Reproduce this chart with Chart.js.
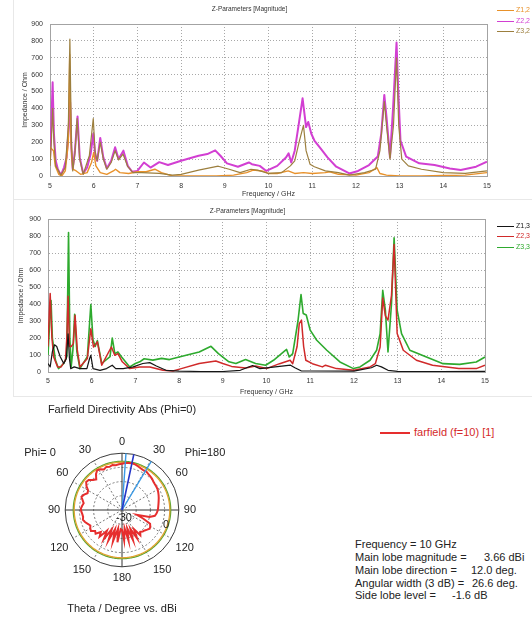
<!DOCTYPE html>
<html>
<head>
<meta charset="utf-8">
<title>Z-Parameters / Farfield</title>
<script src="https://cdn.jsdelivr.net/npm/chart.js@4.4.1/dist/chart.umd.min.js"></script>
<style>
  html, body { margin: 0; padding: 0; background: #fff; }
  #page { position: relative; width: 532px; height: 620px; overflow: hidden;
          font-family: "Liberation Sans", Arial, sans-serif; color: #222; }
  canvas { position: absolute; display: block; }
  .frame { position: absolute; border-left: 1px solid #e8e8e8; border-bottom: 1px solid #e8e8e8; }
  .zleg { position: absolute; left: 497px; font-size: 7px; line-height: 8px; white-space: nowrap; }
  .zleg i { display: inline-block; width: 17px; border-top: 1.5px solid currentColor; vertical-align: middle; margin-right: 2px; }
  #ffLegend { position: absolute; left: 380px; top: 425px; font-size: 11px; line-height: 14px; color: #d42a2a; white-space: nowrap; }
  #ffLegend i { display: inline-block; width: 30px; border-top: 2px solid #e62e2e; vertical-align: middle; margin-right: 4px; }
  .info { position: absolute; font-size: 11px; line-height: 13px; white-space: nowrap; color: #222; }
</style>
</head>
<body>
<div id="page">
  <div class="frame" style="left:13px;top:0;width:519px;height:199px"></div>
  <div class="frame" style="left:13px;top:200px;width:519px;height:196px"></div>
  <canvas id="zTop" width="532" height="200" style="left:0;top:0"></canvas>
  <canvas id="zBottom" width="532" height="200" style="left:0;top:200px"></canvas>
  <canvas id="farfield" width="245" height="225" style="left:0;top:395px"></canvas>
  <div id="legends"></div>
  <div id="ffLegend"><i></i>farfield (f=10) [1]</div>
  <div class="info" style="left:355px;top:538px">Frequency = 10 GHz</div>
  <div class="info" style="left:355px;top:551px">Main lobe magnitude =</div>
  <div class="info" style="left:484px;top:551px">3.66 dBi</div>
  <div class="info" style="left:355px;top:564px">Main lobe direction =</div>
  <div class="info" style="left:471px;top:564px">12.0 deg.</div>
  <div class="info" style="left:355px;top:577px">Angular width (3 dB) =</div>
  <div class="info" style="left:472px;top:577px">26.6 deg.</div>
  <div class="info" style="left:355px;top:589px">Side lobe level =</div>
  <div class="info" style="left:452px;top:589px">-1.6 dB</div>
</div>
<script>
/* ---- data: Z-parameters, frequency in GHz, magnitude in Ohm ---- */
const FREQ_MIN = 5, FREQ_MAX = 15, IMP_MAX = 900;
const freqTicks = [5, 6, 7, 8, 9, 10, 11, 12, 13, 14, 15];
const impTicks = [0, 100, 200, 300, 400, 500, 600, 700, 800, 900];

const z12 = [[5.00,170],[5.04,160],[5.08,150],[5.12,60],[5.20,10],[5.27,0],[5.35,30],[5.42,200],[5.45,720],
  [5.48,200],[5.52,40],[5.60,30],[5.70,10],[5.85,20],[5.95,80],[6.00,140],[6.05,60],[6.15,20],[6.30,10],
  [6.45,30],[6.50,40],[6.60,20],[6.80,15],[7.00,25],[7.20,25],[7.40,40],[7.55,20],[7.80,0],[8.20,0],[8.80,0],
  [9.20,5],[9.50,20],[9.65,35],[9.85,30],[10.00,15],[10.20,15],[10.45,30],[10.60,15],[10.80,20],[11.00,15],
  [11.30,20],[11.40,25],[11.60,10],[12.00,5],[12.30,20],[12.48,50],[12.55,15],[12.70,5],[13.00,0],[13.50,0],
  [14.00,3],[14.50,5],[15.00,20]];
const z22 = [[5.00,95],[5.03,300],[5.06,555],[5.09,250],[5.13,90],[5.18,40],[5.25,5],[5.32,50],[5.38,110],
  [5.42,250],[5.46,440],[5.49,160],[5.52,40],[5.57,150],[5.63,352],[5.68,110],[5.76,15],[5.85,50],[5.93,130],
  [5.99,250],[6.04,110],[6.08,90],[6.15,225],[6.22,110],[6.30,45],[6.40,90],[6.49,170],[6.57,100],[6.68,150],
  [6.78,60],[6.88,25],[7.00,30],[7.15,80],[7.30,50],[7.50,82],[7.70,65],[8.00,90],[8.40,120],[8.60,130],
  [8.78,152],[8.90,120],[9.05,75],[9.30,55],[9.55,80],[9.62,70],[9.80,60],[9.95,30],[10.20,60],[10.40,110],
  [10.46,134],[10.52,80],[10.60,150],[10.70,320],[10.78,460],[10.86,290],[10.91,320],[10.98,250],[11.05,210],
  [11.20,160],[11.35,110],[11.55,55],[11.85,15],[12.05,30],[12.30,65],[12.50,115],[12.58,250],[12.65,480],
  [12.70,350],[12.78,110],[12.85,400],[12.93,790],[12.97,500],[13.02,210],[13.15,115],[13.45,75],[13.80,65],
  [14.15,45],[14.40,35],[14.75,55],[15.00,85]];
const z32 = [[5.00,60],[5.03,200],[5.06,400],[5.09,200],[5.13,60],[5.25,5],[5.35,50],[5.42,300],[5.455,810],
  [5.49,200],[5.52,30],[5.57,130],[5.62,340],[5.68,100],[5.76,10],[5.90,120],[5.99,340],[6.03,150],[6.08,90],
  [6.15,200],[6.22,100],[6.30,40],[6.40,80],[6.49,150],[6.57,95],[6.67,130],[6.78,55],[6.90,20],[7.10,20],
  [7.50,15],[7.80,5],[8.00,10],[8.40,35],[8.85,58],[9.10,40],[9.35,20],[9.60,40],[9.75,35],[10.00,15],
  [10.30,20],[10.50,60],[10.60,90],[10.70,200],[10.80,300],[10.86,150],[10.95,70],[11.05,55],[11.30,30],
  [11.60,20],[11.85,5],[12.20,20],[12.45,40],[12.55,150],[12.65,440],[12.70,300],[12.78,100],[12.86,300],
  [12.93,700],[12.98,300],[13.05,100],[13.20,60],[13.50,40],[14.00,20],[14.50,15],[15.00,30]];

const z13 = [[5.00,50],[5.05,30],[5.10,120],[5.15,160],[5.20,150],[5.28,90],[5.36,50],[5.42,80],[5.46,225],
  [5.49,80],[5.52,20],[5.60,30],[5.73,20],[5.89,20],[5.95,78],[5.98,98],[6.03,20],[6.19,10],[6.34,20],
  [6.47,40],[6.55,20],[6.72,20],[6.95,30],[7.17,50],[7.33,55],[7.48,35],[7.70,10],[8.00,5],[8.50,3],[9.00,3],
  [9.40,10],[9.68,38],[9.85,20],[10.30,33],[10.55,40],[10.65,25],[10.80,6],[11.00,6],[12.00,5],[12.40,25],
  [12.52,40],[12.63,30],[12.78,10],[13.00,4],[14.00,3],[15.00,4]];
const z23 = [[5.00,150],[5.03,350],[5.05,462],[5.09,200],[5.13,88],[5.22,30],[5.30,30],[5.40,70],[5.43,200],
  [5.46,445],[5.49,150],[5.53,150],[5.58,167],[5.62,334],[5.67,130],[5.73,30],[5.90,80],[5.98,255],[6.04,147],
  [6.13,177],[6.23,40],[6.45,147],[6.53,98],[6.60,108],[6.70,60],[6.87,20],[7.10,30],[7.33,30],[7.63,10],
  [7.86,6],[8.05,20],[8.46,50],[8.84,65],[9.00,50],[9.20,33],[9.52,23],[9.75,35],[10.00,20],[10.30,49],
  [10.54,69],[10.60,49],[10.70,150],[10.75,285],[10.80,305],[10.85,150],[10.90,69],[11.05,49],[11.28,30],
  [11.35,40],[11.60,20],[12.00,10],[12.37,30],[12.49,49],[12.60,147],[12.66,435],[12.72,330],[12.78,305],
  [12.86,450],[12.92,750],[12.99,226],[13.13,128],[13.43,69],[13.80,40],[14.40,20],[14.80,20],[15.00,40]];
const z33 = [[5.00,100],[5.03,250],[5.07,420],[5.10,200],[5.17,70],[5.24,20],[5.36,50],[5.43,90],[5.47,820],
  [5.50,200],[5.53,30],[5.57,130],[5.61,340],[5.66,120],[5.73,20],[5.90,90],[5.98,397],[6.03,190],[6.08,150],
  [6.13,185],[6.23,50],[6.42,90],[6.47,200],[6.53,108],[6.60,118],[6.68,90],[6.87,30],[7.00,50],[7.10,60],
  [7.20,78],[7.40,70],[7.60,80],[7.78,73],[8.00,88],[8.46,118],[8.73,151],[8.90,108],[9.14,60],[9.30,50],
  [9.52,73],[9.75,50],[9.98,40],[10.16,69],[10.39,118],[10.46,133],[10.52,88],[10.60,108],[10.72,300],
  [10.79,455],[10.84,344],[10.91,335],[11.00,246],[11.15,187],[11.38,128],[11.68,59],[11.99,20],[12.14,30],
  [12.37,69],[12.52,128],[12.60,226],[12.66,481],[12.72,364],[12.78,118],[12.86,400],[12.92,790],[12.99,364],
  [13.09,226],[13.28,128],[13.66,88],[14.04,49],[14.42,45],[14.80,59],[15.00,88]];

/* ---- data: farfield directivity (dBi) vs theta, Phi=180 side and Phi=0 side ---- */
const THETA_STEP = 4;
const thetaLabels = [0, 30, 60, 90, 120, 150, 180];
const patternPhi180 = [2.6, 3.1, 3.5, 3.66, 3.4, 2.8, 2.2, 1.8, 2.1, 1.4, 1.0, 0.5, -0.2, -0.6, -0.8, -1.0,
  -1.6, -2.2, -2.8, -3.4, -3.9, -4.3, -4.6, -5.0, -5.6, -6.5, -10.0, -19.0, -14.0, -8.0, -7.0, -6.5, -7.5, -8.5,
  -9.0, -10.0, -8.0, -14.0, -7.5, -15.5, -7.5, -16.5, -8.0, -17.0, -8.5, -16.0];
const patternPhi0 = [2.6, 2.3, 1.9, 2.4, 1.6, 2.3, 1.3, 2.5, 3.0, 1.2, -1.8, -0.6, 1.6, 2.0, 0.2, -2.4, -3.0,
  -1.2, 0.0, -1.4, -2.6, -1.8, -1.0, -1.3, -1.9, -2.2, -1.6, -2.6, -4.0, -5.2, -4.2, -3.6, -6.0, -5.0, -8.5,
  -5.5, -12.0, -6.0, -14.5, -6.5, -15.5, -7.0, -16.5, -7.0, -16.5, -16.0];
const R_MIN = -30, R_MAX = 10;
const radialTickLabels = [-30, 0];
const MAIN_LOBE_DBI = 3.66;
const OUTER_RING_DBI = 4.3;
const MAIN_LOBE_DIR = 12;
const BEAM_EDGES = [4, 31];

/* ---- styling ---- */
const FONT = '"Liberation Sans", Arial, sans-serif';
const FRAME = '#a3a3a3';
const GRID = '#a8a8a8';
const Y_AXIS_W = 38;

const topSeries = [
  { label: 'Z1,2', points: z12, color: '#e8912a', width: 1.4, order: 2 },
  { label: 'Z2,2', points: z22, color: '#d23fd2', width: 2, order: 3 },
  { label: 'Z3,2', points: z32, color: '#9c7f3e', width: 1.2, order: 1 }
];
const bottomSeries = [
  { label: 'Z1,3', points: z13, color: '#151515', width: 1.2, order: 1 },
  { label: 'Z2,3', points: z23, color: '#d02a2a', width: 1.5, order: 2 },
  { label: 'Z3,3', points: z33, color: '#2eaa2e', width: 1.6, order: 3 }
];

function drawZChart(canvasId, series, g) {
  const font = { family: FONT, size: 7 };
  const lastX = freqTicks.length - 1, lastY = impTicks.length - 1;
  const edgeDash = (last) => (c) => (c.index === undefined || c.index === 0 || c.index === last) ? [] : [1, 2];
  const edgeColor = (last) => (c) => (c.index === 0 || c.index === last) ? FRAME : GRID;
  return new Chart(document.getElementById(canvasId), {
    type: 'line',
    data: {
      datasets: series.map((s) => ({
        label: s.label,
        data: s.points.map(([x, y]) => ({ x, y })),
        borderColor: s.color,
        borderWidth: s.width,
        order: s.order,
        pointRadius: 0,
        tension: 0,
        fill: false,
        borderJoinStyle: 'round'
      }))
    },
    options: {
      responsive: false,
      animation: false,
      events: [],
      layout: { padding: { left: g.left - Y_AXIS_W, right: 532 - g.right, top: 0, bottom: 0 } },
      plugins: {
        legend: { display: false },
        tooltip: { enabled: false },
        title: {
          display: true, text: 'Z-Parameters [Magnitude]', color: '#333',
          font: { family: FONT, size: 6.5, weight: 'normal' },
          padding: { top: g.titleTop, bottom: g.titleBottom }
        }
      },
      scales: {
        x: {
          type: 'linear', min: FREQ_MIN, max: FREQ_MAX,
          afterBuildTicks: (s) => { s.ticks = freqTicks.map((value) => ({ value })); },
          afterFit: (s) => { s.height = g.xAxisH; },
          ticks: { font, color: '#333', padding: g.xTickPad, maxRotation: 0 },
          grid: { color: edgeColor(lastX), drawTicks: false },
          border: { color: FRAME, dash: edgeDash(lastX) },
          title: { display: true, text: 'Frequency / GHz', font, color: '#333', padding: { top: 0, bottom: g.xTitlePad } }
        },
        y: {
          min: 0, max: IMP_MAX,
          afterBuildTicks: (s) => { s.ticks = impTicks.map((value) => ({ value })); },
          afterFit: (s) => { s.width = Y_AXIS_W; },
          ticks: { font, color: '#333', padding: 7 },
          grid: { color: edgeColor(lastY), drawTicks: false },
          border: { color: FRAME, dash: edgeDash(lastY) },
          title: { display: true, text: 'Impedance / Ohm', font, color: '#333', padding: { top: g.yTitlePad, bottom: 0 } }
        }
      }
    }
  });
}

function addLegend(series, centers) {
  const host = document.getElementById('legends');
  series.forEach((s, i) => {
    const el = document.createElement('div');
    el.className = 'zleg';
    el.style.top = (centers[i] - 4) + 'px';
    el.style.color = s.color;
    el.innerHTML = '<i></i>' + s.label;
    host.appendChild(el);
  });
}

drawZChart('zTop', topSeries, {
  left: 50, right: 487, titleTop: 5.1, titleBottom: 11.1,
  xAxisH: 24, xTickPad: 5.5, xTitlePad: 1.8, yTitlePad: 8.8
});
drawZChart('zBottom', bottomSeries, {
  left: 48, right: 485, titleTop: 7.1, titleBottom: 4.1,
  xAxisH: 28, xTickPad: 5, xTitlePad: 3.8, yTitlePad: 6.8
});
addLegend(topSeries, [10, 21, 31]);
addLegend(bottomSeries, [226, 236, 247]);

/* ---- farfield polar plot ---- */
const ANGLES = Array.from({ length: 360 }, (_, a) => a);
const farfield = ANGLES.map(() => null);
patternPhi180.forEach((d, i) => { farfield[i * THETA_STEP] = d; });
patternPhi0.forEach((d, i) => {
  const a = i * THETA_STEP;
  if (a > 0 && a < 180) farfield[360 - a] = d;
});
const ring = (level) => ANGLES.map(() => level);
function ray(angle) {
  const d = ANGLES.map(() => null);
  d[0] = R_MIN;
  d[angle] = R_MAX;
  return d;
}

const polarNotes = {
  id: 'polarNotes',
  afterDraw(chart) {
    const r = chart.scales.r;
    const ctx = chart.ctx;
    ctx.save();
    ctx.font = '11px ' + FONT;
    ctx.fillStyle = '#222';
    ctx.textAlign = 'center';
    ctx.textBaseline = 'middle';
    ctx.fillText('Phi= 0', r.xCenter - 82, r.yCenter - 57);
    ctx.fillText('Phi=180', r.xCenter + 83, r.yCenter - 57);
    radialTickLabels.forEach((v) => {
      const p = r.getPointPositionForValue(100, v);
      ctx.fillText(String(v), p.x + 2, p.y + 8);
    });
    ctx.restore();
  }
};

const lineDs = (label, data, color, width, order) => ({
  label, data, borderColor: color, borderWidth: width, order,
  fill: false, spanGaps: true, pointRadius: 0, tension: 0
});

new Chart(document.getElementById('farfield'), {
  type: 'radar',
  data: {
    labels: ANGLES.map((a) => (a <= 180 ? a : 360 - a)),
    datasets: [
      lineDs('main lobe', ray(MAIN_LOBE_DIR), '#2536c8', 1.6, 0),
      lineDs('3 dB', ray(BEAM_EDGES[0]), '#3a9ae6', 1.4, 0),
      lineDs('3 dB ', ray(BEAM_EDGES[1]), '#3a9ae6', 1.4, 0),
      lineDs('farfield (f=10) [1]', farfield, '#e62e2e', 2, 1),
      lineDs('main lobe level', ring(MAIN_LOBE_DBI), '#e2a232', 1.3, 2),
      lineDs('ring', ring(OUTER_RING_DBI), '#5aa632', 1.3, 2)
    ]
  },
  options: {
    responsive: false,
    animation: false,
    events: [],
    layout: { padding: { left: 47, right: 48, top: 0, bottom: 0 } },
    plugins: {
      legend: { display: false },
      tooltip: { enabled: false },
      title: {
        display: true, text: 'Farfield Directivity Abs (Phi=0)', color: '#222',
        font: { family: FONT, size: 11, weight: 'normal' }, padding: { top: 8.4, bottom: 18.4 }
      },
      subtitle: {
        display: true, position: 'bottom', text: 'Theta / Degree vs. dBi', color: '#222',
        font: { family: FONT, size: 11, weight: 'normal' }, padding: { top: 17.4, bottom: 4.4 }
      }
    },
    scales: {
      r: {
        min: R_MIN, max: R_MAX,
        ticks: { display: false, stepSize: 10 },
        grid: { circular: true, color: (c) => (c.tick.value === R_MAX ? '#3c3c3c' : '#7a7a7a') },
        border: { dash: (c) => (c.tick && c.tick.value === R_MAX ? [] : [2, 2]) },
        angleLines: {
          color: (c) => (c.index % 90 === 0 ? '#333' : '#7a7a7a'),
          lineWidth: (c) => (c.index % 30 === 0 ? 1 : 0),
          borderDash: (c) => (c.index % 90 === 0 ? [] : [2, 2])
        },
        pointLabels: {
          padding: 5, color: '#222',
          font: { family: FONT, size: 11 },
          callback: (label, i) => (i % 30 === 0 && thetaLabels.includes(label) ? String(label) : '')
        }
      }
    }
  },
  plugins: [polarNotes]
});
</script>
</body>
</html>
